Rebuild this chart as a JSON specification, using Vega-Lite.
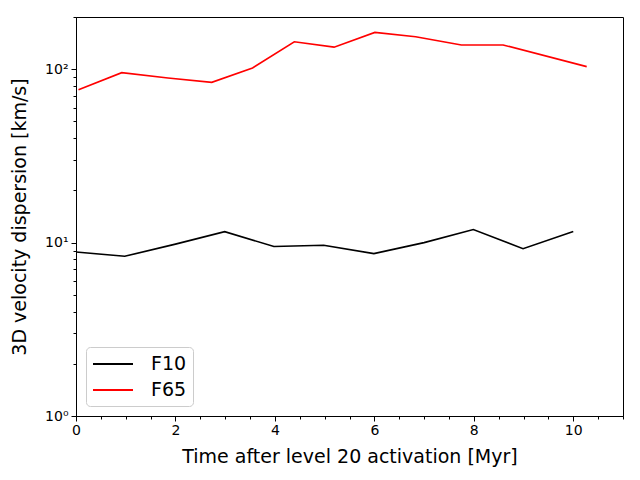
{
  "$schema": "https://vega.github.io/schema/vega-lite/v6.json",
  "width": 547,
  "height": 399,
  "autosize": "none",
  "padding": {"left": 76, "top": 17, "right": 17, "bottom": 64},
  "background": "white",
  "config": {
    "view": {"stroke": "black", "strokeWidth": 1},
    "font": "DejaVu Sans",
    "axis": {
      "domainColor": "black",
      "tickColor": "black",
      "labelColor": "black",
      "titleColor": "black",
      "labelFont": "DejaVu Sans",
      "titleFont": "DejaVu Sans",
      "labelFontSize": 14,
      "titleFontSize": 19,
      "titleFontWeight": "normal",
      "grid": false
    }
  },
  "data": {
    "values": [
      {"t": 0.0, "v": 8.83, "run": "F10"},
      {"t": 0.98, "v": 8.34, "run": "F10"},
      {"t": 2.0, "v": 9.8, "run": "F10"},
      {"t": 2.99, "v": 11.57, "run": "F10"},
      {"t": 3.98, "v": 9.49, "run": "F10"},
      {"t": 4.98, "v": 9.65, "run": "F10"},
      {"t": 5.99, "v": 8.64, "run": "F10"},
      {"t": 7.0, "v": 10.0, "run": "F10"},
      {"t": 7.99, "v": 11.9, "run": "F10"},
      {"t": 8.99, "v": 9.23, "run": "F10"},
      {"t": 10.0, "v": 11.57, "run": "F10"},
      {"t": 0.05, "v": 76, "run": "F65"},
      {"t": 0.92, "v": 95.5, "run": "F65"},
      {"t": 1.85, "v": 89, "run": "F65"},
      {"t": 2.73, "v": 84, "run": "F65"},
      {"t": 3.55, "v": 101.7, "run": "F65"},
      {"t": 4.39, "v": 144, "run": "F65"},
      {"t": 5.19, "v": 134, "run": "F65"},
      {"t": 6.01, "v": 163, "run": "F65"},
      {"t": 6.83, "v": 154, "run": "F65"},
      {"t": 7.75, "v": 138, "run": "F65"},
      {"t": 8.59, "v": 138, "run": "F65"},
      {"t": 10.27, "v": 103.5, "run": "F65"}
    ]
  },
  "mark": {"type": "line", "strokeWidth": 1.6, "clip": true},
  "encoding": {
    "x": {
      "field": "t",
      "type": "quantitative",
      "scale": {"domain": [0, 11], "nice": false, "zero": false},
      "axis": {
        "title": "Time after level 20 activation [Myr]",
        "values": [0, 0.5, 1, 1.5, 2, 2.5, 3, 3.5, 4, 4.5, 5, 5.5, 6, 6.5, 7, 7.5, 8, 8.5, 9, 9.5, 10, 10.5, 11],
        "labelExpr": "datum.value % 2 == 0 && datum.value <= 10 ? datum.value : ''",
        "tickSize": {"condition": {"test": "datum.value % 2 == 0 && datum.value <= 10", "value": 5}, "value": 3},
        "labelPadding": 2,
        "labelFlush": false,
        "titlePadding": 10
      }
    },
    "y": {
      "field": "v",
      "type": "quantitative",
      "scale": {"type": "log", "domain": [1, 200], "nice": false},
      "axis": {
        "title": "3D velocity dispersion [km/s]",
        "values": [1, 2, 3, 4, 5, 6, 7, 8, 9, 10, 20, 30, 40, 50, 60, 70, 80, 90, 100, 200],
        "labelExpr": "datum.value == 1 ? '10⁰' : datum.value == 10 ? '10¹' : datum.value == 100 ? '10²' : ''",
        "tickSize": {"condition": {"test": "datum.value == 1 || datum.value == 10 || datum.value == 100", "value": 5}, "value": 3},
        "labelPadding": 3,
        "labelFlush": false,
        "titlePadding": 15
      }
    },
    "color": {
      "field": "run",
      "type": "nominal",
      "scale": {"domain": ["F10", "F65"], "range": ["black", "#ff0000"]},
      "legend": {
        "title": null,
        "orient": "bottom-left",
        "offset": 10,
        "symbolType": "M-1,0L3,0",
        "symbolSize": 400,
        "symbolStrokeWidth": 2,
        "labelFontSize": 19,
        "labelFont": "DejaVu Sans",
        "labelColor": "black",
        "labelOffset": 37,
        "rowPadding": 5,
        "padding": 6,
        "strokeColor": "#cccccc",
        "cornerRadius": 4,
        "fillColor": "white"
      }
    }
  }
}
